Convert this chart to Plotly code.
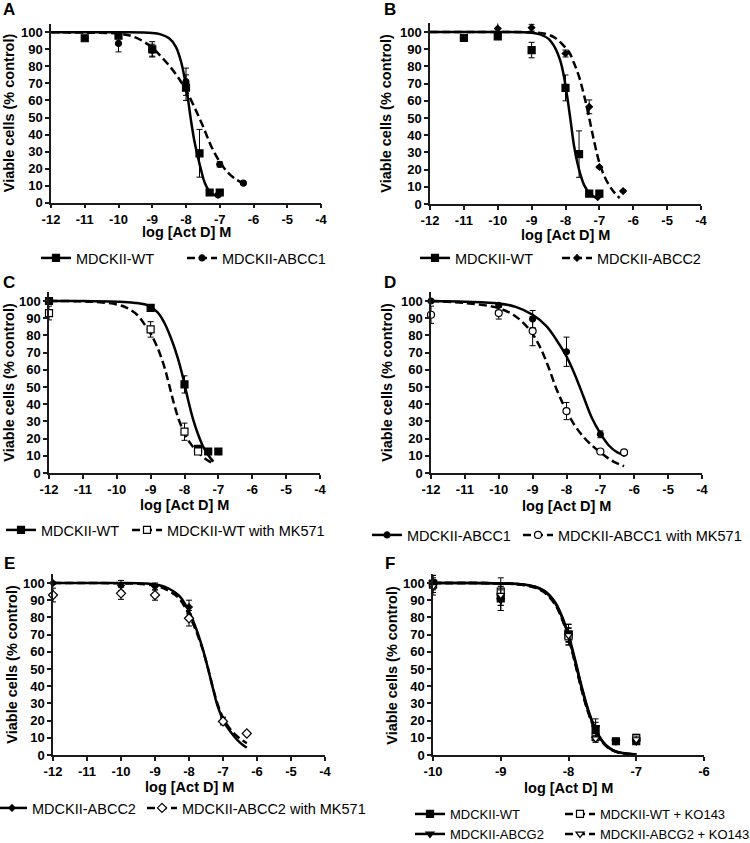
import plotly.graph_objects as go

W, H = 750, 843
FONT = "Liberation Sans, Arial, sans-serif"

# ---------------- data ----------------
# Panel A
A_WT_x = [-11, -10, -9, -8, -7.6, -7.3, -7.0]
A_WT_y = [96.5, 98, 90, 67.5, 29, 6, 6]
A_WT_err = [0, 1.5, 4.5, 7.5, 14, 0.5, 0.5]
A_C1_x = [-10, -9, -8, -7, -6.3, -7.05]
A_C1_y = [93.5, 89.5, 71, 22.5, 11.5, 4.5]
A_C1_err = [5, 3.5, 8, 1.5, 1, 0]
A_WT_fit_x = [-12, -10, -9.0, -8.75, -8.5, -8.3, -8.15, -8.05, -7.95, -7.85, -7.75, -7.65, -7.55, -7.45, -7.3, -7.15, -7.0]
A_WT_fit_y = [100, 100, 99.6, 98.8, 96.5, 91.5, 83, 74, 62, 48, 36, 27, 19, 12, 6.5, 4.5, 3.5]
A_C1_fit_x = [-12, -11, -10, -9.5, -9.0, -8.75, -8.5, -8.25, -8.0, -7.75, -7.5, -7.25, -7.0, -6.75, -6.5, -6.3]
A_C1_fit_y = [100, 99.8, 99.2, 97, 91, 86, 80.5, 74, 66, 56, 45, 33, 24, 17.5, 13.5, 11.5]

# Panel B
B_WT_x = [-11, -10, -9, -8, -7.6, -7.3, -7.0]
B_WT_y = [96.5, 97.5, 89.5, 67.5, 29, 6, 6]
B_WT_err = [0, 1.5, 4.5, 7.5, 13.5, 0.5, 0.5]
B_C2_x = [-10, -9, -8, -7.3, -7, -6.3, -7.05]
B_C2_y = [102, 102.5, 87.5, 56.5, 21.5, 7.5, 4]
B_C2_err = [3.5, 2, 2, 4, 0.5, 0.5, 0]
B_WT_fit_x = [-12, -10, -9.0, -8.75, -8.5, -8.3, -8.15, -8.05, -7.95, -7.85, -7.75, -7.65, -7.55, -7.45, -7.3, -7.15, -7.0]
B_WT_fit_y = [100, 100, 99.6, 98.6, 96, 90.5, 83, 74.5, 62.5, 48.5, 34, 24, 16.5, 11, 6.5, 4.2, 3.3]
B_C2_fit_x = [-12, -10, -9, -8.6, -8.3, -8.1, -7.9, -7.75, -7.6, -7.45, -7.3, -7.15, -7.0, -6.85, -6.7, -6.55, -6.4]
B_C2_fit_y = [100, 100, 99.8, 99, 96.5, 93, 88.5, 82, 74, 63, 50, 36, 24, 16, 10.5, 6.5, 3.5]

# Panel C
C_WT_x = [-12, -9, -8, -7.6, -7.3, -7.0]
C_WT_y = [100, 96, 51.5, 14, 12.5, 12.5]
C_WT_err = [0.5, 1.5, 5, 1, 0.5, 0.5]
C_MK_x = [-12, -9, -8, -7.6]
C_MK_y = [93, 83.5, 24, 12.5]
C_MK_err = [4, 4.5, 5, 1]
C_WT_fit_x = [-12, -11, -10, -9.5, -9.1, -8.8, -8.6, -8.4, -8.2, -8.05, -7.9, -7.75, -7.6, -7.45, -7.3, -7.15]
C_WT_fit_y = [100, 100, 99.6, 99, 97.6, 93.5, 87.5, 78.5, 67, 56, 43, 31.5, 22.5, 15.3, 10.5, 6.6]
C_MK_fit_x = [-12, -11, -10.5, -10, -9.7, -9.4, -9.2, -9.0, -8.8, -8.6, -8.45, -8.3, -8.15, -8.0, -7.8, -7.6, -7.4, -7.15]
C_MK_fit_y = [100, 99.8, 99.3, 98, 96, 92, 87, 81, 73, 62, 51, 39.5, 30, 23, 16.5, 12, 8.5, 5.5]

# Panel D
D_C1_x = [-12, -10, -9, -8, -7, -6.3]
D_C1_y = [100, 97.5, 89.5, 70.5, 22.5, 11.5]
D_C1_err = [0, 1, 5, 8.5, 2, 0.5]
D_MK_x = [-12, -10, -9, -8, -7, -6.3]
D_MK_y = [92, 93, 82.5, 36, 12.5, 12]
D_MK_err = [5, 3.5, 8.5, 5, 1, 1]
D_C1_fit_x = [-12, -11, -10, -9.5, -9.0, -8.6, -8.3, -8.0, -7.75, -7.5, -7.25, -7.0, -6.75, -6.5, -6.3]
D_C1_fit_y = [100, 99.6, 98.6, 96.6, 92, 85.5, 77.5, 67.8, 57, 44.5, 32, 23, 16, 12, 10.5]
D_MK_fit_x = [-12, -11, -10, -9.5, -9.1, -8.8, -8.55, -8.3, -8.05, -7.8, -7.5, -7.2, -6.9, -6.6, -6.3]
D_MK_fit_y = [100, 98.8, 95.8, 91, 83.5, 74, 62.5, 49, 38, 29, 21, 15.2, 10.5, 6.5, 4]

# Panel E
E_C2_x = [-12, -10, -9, -8, -7]
E_C2_y = [100, 98.5, 98, 86, 20]
E_C2_err = [0.5, 3, 2, 4, 2]
E_MK_x = [-12, -10, -9, -8, -7, -6.3]
E_MK_y = [93, 94, 93, 79.5, 19.5, 12.5]
E_MK_err = [4, 3.5, 3, 4.5, 2, 0.5]
E_C2_fit_x = [-12, -11, -10, -9.3, -8.9, -8.6, -8.3, -8.05, -7.8, -7.6, -7.45, -7.3, -7.15, -6.95, -6.7, -6.5, -6.3]
E_C2_fit_y = [100, 100, 100, 99.7, 98.8, 96.8, 92.8, 85.5, 74, 62, 51, 39, 28, 18.5, 11.5, 7.2, 4.2]
E_MK_fit_x = [-12, -11, -10, -9.3, -8.9, -8.6, -8.3, -8.05, -7.8, -7.6, -7.45, -7.3, -7.15, -6.95, -6.7, -6.5, -6.3]
E_MK_fit_y = [100, 100, 99.8, 99.3, 98, 95.5, 91.2, 83.5, 72.5, 61.5, 51, 39.5, 29, 19.8, 13, 9.5, 6.8]

# Panel F
F_WT_x = [-10, -9, -8, -7.6, -7.3, -7.0]
F_WT_y = [99.5, 91, 70, 15, 8, 8]
F_WT_err = [5, 7, 6, 4, 0.5, 1.5]
F_WTK_x = [-10, -9, -8, -7.6, -7.0]
F_WTK_y = [99, 95, 69, 10.5, 10]
F_WTK_err = [3, 8, 5, 3, 2]
F_G2_x = [-10, -9, -8, -7.6, -7.3, -7.0]
F_G2_y = [100.5, 90, 71, 16, 7.8, 7.8]
F_G2_err = [4, 6, 5, 5, 0.5, 1]
F_G2K_x = [-10, -9, -8, -7.6, -7.0]
F_G2K_y = [98, 93, 69.5, 9.5, 9]
F_G2K_err = [5, 6, 4, 2, 2]
F_fit_x = [-10, -9.5, -9.0, -8.7, -8.5, -8.35, -8.2, -8.1, -8.0, -7.9, -7.8, -7.7, -7.6, -7.5, -7.4, -7.3, -7.15, -7.0]
F_WT_fit_y = [100, 100, 99.8, 99.2, 97.8, 95, 88.5, 80.5, 69, 54, 38, 24.5, 14.5, 7.8, 4, 2, 0.8, 0.4]
F_WTK_fit_y = [100, 100, 99.8, 99.1, 97.6, 94.6, 88, 80, 68.5, 53.5, 37.5, 24, 14.2, 7.6, 3.9, 2, 0.8, 0.4]
F_G2_fit_y = [100, 100, 99.8, 99.3, 98, 95.4, 89, 81, 69.8, 55, 39, 25.2, 15, 8.2, 4.2, 2.1, 0.9, 0.4]
F_G2K_fit_y = [100, 100, 99.7, 99.0, 97.4, 94.3, 87.6, 79.5, 68, 53, 37, 23.8, 14, 7.5, 3.8, 1.9, 0.8, 0.4]

X_TICKS_WIDE = [-12, -11, -10, -9, -8, -7, -6, -5, -4]
X_LABELS_WIDE = ["-12", "-11", "-10", "-9", "-8", "-7", "-6", "-5", "-4"]
X_TICKS_F = [-10, -9, -8, -7, -6]
X_LABELS_F = ["-10", "-9", "-8", "-7", "-6"]
Y_TICKS = [0, 10, 20, 30, 40, 50, 60, 70, 80, 90, 100]
Y_LABELS = ["0", "10", "20", "30", "40", "50", "60", "70", "80", "90", "100"]
X_TITLE = "log [Act D] M"
Y_TITLE = "Viable cells (% control)"

# ---------------- series definitions ----------------
def S(name, x, y, err, fx, fy, dash, symbol, filled, size, leg):
    return dict(name=name, x=x, y=y, err=err, fx=fx, fy=fy, dash=dash,
                symbol=symbol, filled=filled, size=size, leg=leg)

DASH = "8px,4px"
# box = (left px, right px, y=0 px); titles = (x-title centre y px, y-title centre x px); lfs = legend font
panels = [
    dict(letter="A", box=(51, 321, 202.7), xr=(-12, -4), xt=(X_TICKS_WIDE, X_LABELS_WIDE), lpos=(9, 10),
         titles=(232.5, 9), lfs=14.5,
         series=[S("MDCKII-WT", A_WT_x, A_WT_y, A_WT_err, A_WT_fit_x, A_WT_fit_y, "solid", "square", True, 7, (36, 258)),
                 S("MDCKII-ABCC1", A_C1_x, A_C1_y, A_C1_err, A_C1_fit_x, A_C1_fit_y, DASH, "circle", True, 6, (182, 258))]),
    dict(letter="B", box=(430, 701, 204), xr=(-12, -4), xt=(X_TICKS_WIDE, X_LABELS_WIDE), lpos=(390, 10),
         titles=(235, 386), lfs=14.5,
         series=[S("MDCKII-WT", B_WT_x, B_WT_y, B_WT_err, B_WT_fit_x, B_WT_fit_y, "solid", "square", True, 7, (415, 258)),
                 S("MDCKII-ABCC2", B_C2_x, B_C2_y, B_C2_err, B_C2_fit_x, B_C2_fit_y, DASH, "diamond", True, 5, (557, 258))]),
    dict(letter="C", box=(49, 320, 473), xr=(-12, -4), xt=(X_TICKS_WIDE, X_LABELS_WIDE), lpos=(9, 283),
         titles=(505, 9), lfs=14.5,
         series=[S("MDCKII-WT", C_WT_x, C_WT_y, C_WT_err, C_WT_fit_x, C_WT_fit_y, "solid", "square", True, 7, (1, 530)),
                 S("MDCKII-WT with MK571", C_MK_x, C_MK_y, C_MK_err, C_MK_fit_x, C_MK_fit_y, DASH, "square", False, 7, (127, 530))]),
    dict(letter="D", box=(431, 702, 473), xr=(-12, -4), xt=(X_TICKS_WIDE, X_LABELS_WIDE), lpos=(390, 283),
         titles=(506, 387), lfs=14.5,
         series=[S("MDCKII-ABCC1", D_C1_x, D_C1_y, D_C1_err, D_C1_fit_x, D_C1_fit_y, "solid", "circle", True, 6, (367, 535)),
                 S("MDCKII-ABCC1 with MK571", D_MK_x, D_MK_y, D_MK_err, D_MK_fit_x, D_MK_fit_y, DASH, "circle", False, 7, (518, 535))]),
    dict(letter="E", box=(53, 325, 755), xr=(-12, -4), xt=(X_TICKS_WIDE, X_LABELS_WIDE), lpos=(9, 563),
         titles=(787, 12), lfs=14.5,
         series=[S("MDCKII-ABCC2", E_C2_x, E_C2_y, E_C2_err, E_C2_fit_x, E_C2_fit_y, "solid", "diamond", True, 5, (-8, 808)),
                 S("MDCKII-ABCC2 with MK571", E_MK_x, E_MK_y, E_MK_err, E_MK_fit_x, E_MK_fit_y, DASH, "diamond", False, 7, (142, 808))]),
    dict(letter="F", box=(433, 704, 755), xr=(-10, -6), xt=(X_TICKS_F, X_LABELS_F), lpos=(390, 563),
         titles=(788, 392), lfs=13,
         series=[S("MDCKII-WT", F_WT_x, F_WT_y, F_WT_err, F_fit_x, F_WT_fit_y, "solid", "square", True, 7, (410, 814)),
                 S("MDCKII-WT + KO143", F_WTK_x, F_WTK_y, F_WTK_err, F_fit_x, F_WTK_fit_y, DASH, "square", False, 7, (560, 814)),
                 S("MDCKII-ABCG2", F_G2_x, F_G2_y, F_G2_err, F_fit_x, F_G2_fit_y, "solid", "triangle-down", True, 7, (410, 834)),
                 S("MDCKII-ABCG2 + KO143", F_G2K_x, F_G2K_y, F_G2K_err, F_fit_x, F_G2K_fit_y, DASH, "triangle-down", False, 7, (560, 834))]),
]

YMAX = 105
fig = go.Figure()
layout = dict(width=W, height=H, margin=dict(l=0, r=0, t=0, b=0, autoexpand=False),
              paper_bgcolor="white", plot_bgcolor="white", showlegend=True,
              font=dict(family=FONT, color="black"), annotations=[])

axis_common = dict(showline=True, linecolor="#1a1a1a", linewidth=1.5, ticks="outside",
                   ticklen=4, tickwidth=1.5, tickcolor="#1a1a1a", showgrid=False,
                   zeroline=False, fixedrange=True, automargin=False,
                   tickfont=dict(family=FONT, size=13, color="black", weight="bold"))

leg_n = 0
for i, p in enumerate(panels, start=1):
    sfx = "" if i == 1 else str(i)
    left, right, bottom = p["box"]
    ppu = 1.72 if p["letter"] != "A" else 1.704
    top = bottom - YMAX * ppu
    layout["xaxis" + sfx] = dict(axis_common, domain=[left / W, right / W], range=list(p["xr"]),
              anchor="y" + sfx, tickmode="array", tickvals=p["xt"][0], ticktext=p["xt"][1])
    layout["yaxis" + sfx] = dict(axis_common, domain=[1 - bottom / H, 1 - top / H], range=[0, YMAX],
              anchor="x" + sfx, tickmode="array", tickvals=Y_TICKS, ticktext=Y_LABELS)
    tx, ty = p["titles"]
    layout["annotations"].append(dict(text="<b>%s</b>" % X_TITLE, xref="paper", yref="paper",
                                      x=(left + right) / 2 / W, y=1 - tx / H,
                                      xanchor="center", yanchor="middle", showarrow=False,
                                      font=dict(family=FONT, size=14.5, color="black")))
    layout["annotations"].append(dict(text="<b>%s</b>" % Y_TITLE, xref="paper", yref="paper",
                                      x=ty / W, y=1 - (bottom + top) / 2 / H, textangle=-90,
                                      xanchor="center", yanchor="middle", showarrow=False,
                                      font=dict(family=FONT, size=14.5, color="black")))
    layout["annotations"].append(dict(text="<b>%s</b>" % p["letter"], xref="paper", yref="paper",
                                      x=p["lpos"][0] / W, y=1 - p["lpos"][1] / H,
                                      xanchor="center", yanchor="middle", showarrow=False,
                                      font=dict(family=FONT, size=17, color="black")))

    for s in p["series"]:
        mk = dict(symbol=s["symbol"], size=s["size"],
                  color="black" if s["filled"] else "white",
                  line=dict(color="black", width=1.2))
        fig.add_trace(go.Scatter(x=s["fx"], y=s["fy"], mode="lines", line_shape="spline",
                                 line=dict(color="black", width=2.5, dash=s["dash"]),
                                 xaxis="x" + sfx, yaxis="y" + sfx, showlegend=False,
                                 hoverinfo="skip", cliponaxis=False))
        fig.add_trace(go.Scatter(x=s["x"], y=s["y"], mode="markers", marker=mk,
                                 error_y=dict(type="data", array=s["err"], color="black",
                                              thickness=1, width=3),
                                 xaxis="x" + sfx, yaxis="y" + sfx, showlegend=False,
                                 cliponaxis=False))
    for s in p["series"]:
        leg_n += 1
        lname = "legend" if leg_n == 1 else "legend%d" % leg_n
        lx, ly = s["leg"]
        layout[lname] = dict(orientation="v", x=lx / W, y=1 - ly / H, xanchor="left",
                             yanchor="middle", bgcolor="rgba(0,0,0,0)", borderwidth=0,
                             font=dict(family=FONT, size=p["lfs"], color="black"),
                             itemclick=False, itemdoubleclick=False)
        mk = dict(symbol=s["symbol"], size=s["size"],
                  color="black" if s["filled"] else "white",
                  line=dict(color="black", width=1.2))
        fig.add_trace(go.Scatter(x=[None], y=[None], mode="lines+markers", name=s["name"],
                                 marker=mk, line=dict(color="black", width=2.5, dash=s["dash"]),
                                 xaxis="x" + sfx, yaxis="y" + sfx, legend=lname,
                                 showlegend=True))

fig.update_layout(**layout)
# remove the browser's default 8px page margin so the figure sits at the window origin
fig.write_html("out.html", config={"displayModeBar": False},
               post_script="document.body.style.margin='0';")
